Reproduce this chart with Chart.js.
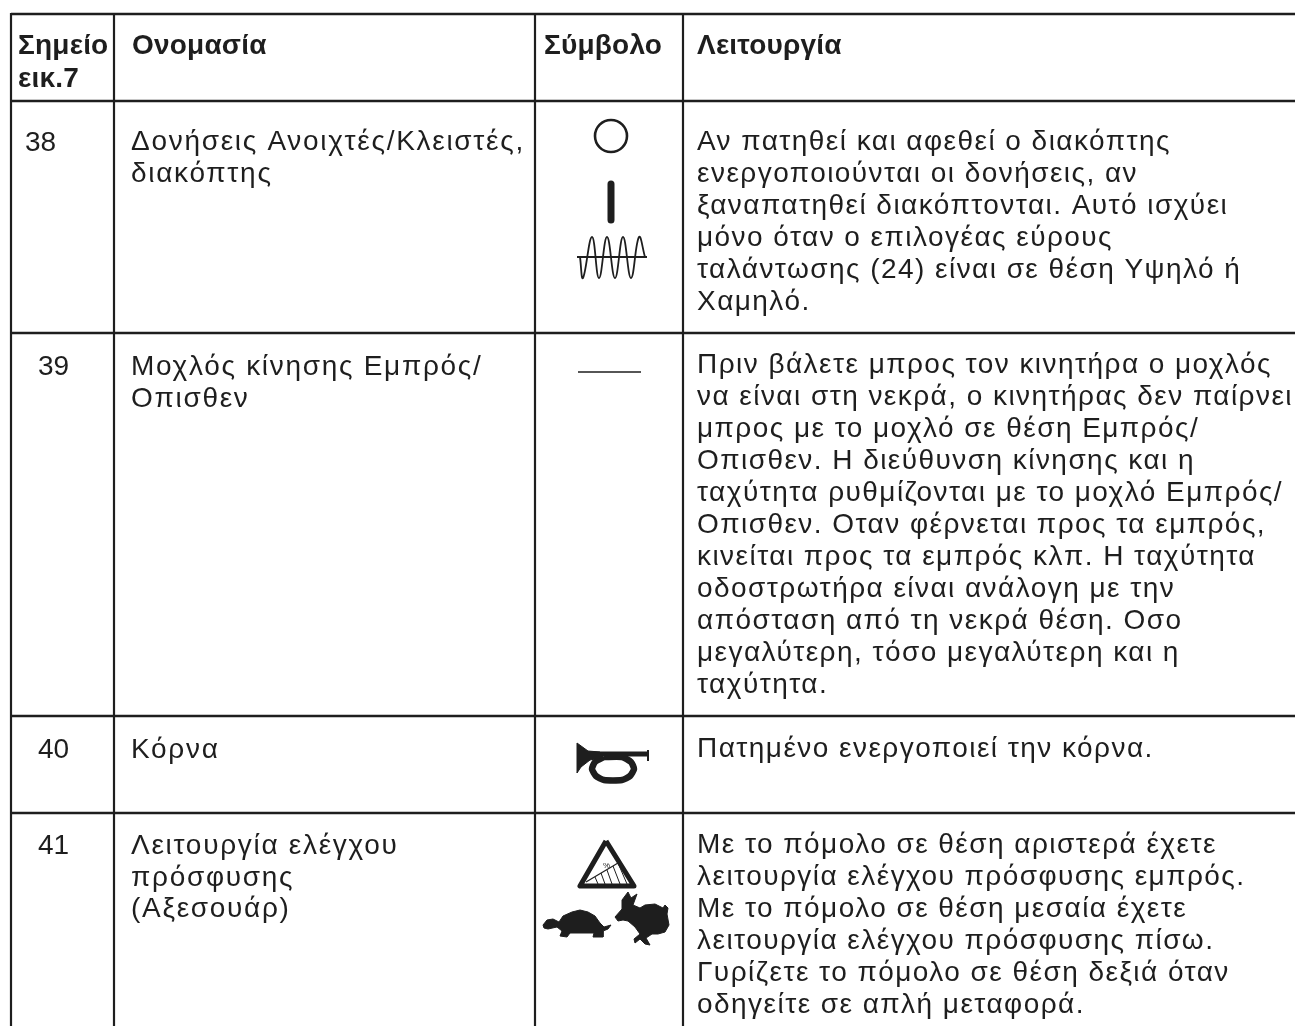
<!DOCTYPE html>
<html lang="el">
<head>
<meta charset="UTF-8">
<title>Σημείο / Ονομασία / Σύμβολο / Λειτουργία</title>
<script src="https://cdn.jsdelivr.net/npm/chart.js"></script>
<style>
  html, body { margin: 0; padding: 0; background: #fff; }
  canvas { display: block; }
</style>
</head>
<body>
<canvas id="tableChart" width="1295" height="1026"></canvas>
<script>
// table rules
const columnRules = [11, 114, 535, 683];
const rowRules = [14, 101, 333, 716, 813];

// header cells
const headerTexts = ['Σημείο', 'εικ.7', 'Ονομασία', 'Σύμβολο', 'Λειτουργία'];
const headerX = [18, 18, 132, 544, 697];
const headerY = [54, 87, 54, 54, 54];

// point numbers
const pointLabels = ['38', '39', '40', '41'];
const pointX = [25, 38, 38, 38];
const pointY = [151, 375, 758, 854];

// names, one array per row
const nameLines38 = ['Δονήσεις Ανοιχτές/Κλειστές,', 'διακόπτης'];
const nameLines39 = ['Μοχλός κίνησης Εμπρός/', 'Οπισθεν'];
const nameLines40 = ['Κόρνα'];
const nameLines41 = ['Λειτουργία ελέγχου', 'πρόσφυσης', '(Αξεσουάρ)'];
const nameTop = [150, 375, 758, 854];

// functions, one array per row
const funcLines38 = [
  'Αν πατηθεί και αφεθεί ο διακόπτης',
  'ενεργοποιούνται οι δονήσεις, αν',
  'ξαναπατηθεί διακόπτονται. Αυτό ισχύει',
  'μόνο όταν ο επιλογέας εύρους',
  'ταλάντωσης (24) είναι σε θέση Υψηλό ή',
  'Χαμηλό.'
];
const funcLines39 = [
  'Πριν βάλετε μπρος τον κινητήρα ο μοχλός',
  'να είναι στη νεκρά, ο κινητήρας δεν παίρνει',
  'μπρος με το μοχλό σε θέση Εμπρός/',
  'Οπισθεν. Η διεύθυνση κίνησης και η',
  'ταχύτητα ρυθμίζονται με το μοχλό Εμπρός/',
  'Οπισθεν. Οταν φέρνεται προς τα εμπρός,',
  'κινείται προς τα εμπρός κλπ. Η ταχύτητα',
  'οδοστρωτήρα είναι ανάλογη με την',
  'απόσταση από τη νεκρά θέση. Οσο',
  'μεγαλύτερη, τόσο μεγαλύτερη και η',
  'ταχύτητα.'
];
const funcLines40 = ['Πατημένο ενεργοποιεί την κόρνα.'];
const funcLines41 = [
  'Με το πόμολο σε θέση αριστερά έχετε',
  'λειτουργία ελέγχου πρόσφυσης εμπρός.',
  'Με το πόμολο σε θέση μεσαία έχετε',
  'λειτουργία ελέγχου πρόσφυσης πίσω.',
  'Γυρίζετε το πόμολο σε θέση δεξιά όταν',
  'οδηγείτε σε απλή μεταφορά.'
];
const funcTop = [150, 373, 757, 853];

// symbol outlines, x/y pairs
const onOffCircle = [611, 136];
const onOffBar = [611, 184, 611, 220];
const waveAxis = [577, 257, 647, 257];
const wavePath = [580, 257, 583, 278, 592, 237, 599, 278, 607, 237, 615, 278, 623, 237, 631, 278, 639, 237, 645, 257];
const leverDash = [578, 372, 641, 372];
const hornBell = [577, 743, 588, 751, 600, 752, 600, 758, 590, 760, 581, 767, 577, 773, 577, 743];
const hornTube = [585, 754, 648, 754];
const hornCap = [648, 750, 648, 761];
const hornLoop = [604, 757, 622, 757, 631, 762, 634, 769, 630, 776, 622, 780, 604, 780, 596, 776, 592, 769, 595, 762, 604, 757];
const slopeTriangle = [606, 841, 580, 886, 634, 886, 606, 841];
const slopeLine = [586, 882, 618, 863];
const slopeHatch = [
  [595, 877, 598, 884], [601, 873, 605, 884], [607, 870, 612, 884],
  [613, 866, 620, 884], [618, 863, 627, 884]
];
const turtleShape = [
  543, 925, 547, 920, 553, 919, 559, 922, 563, 916, 572, 912, 580, 910, 588, 912,
  595, 916, 600, 923, 604, 927, 611, 925, 608, 929, 603, 931, 603, 937, 593, 937,
  594, 933, 570, 933, 567, 937, 560, 936, 562, 931, 557, 927, 548, 929, 544, 928, 543, 925
];
const rabbitShape = [
  615, 917, 622, 909, 622, 900, 628, 892, 631, 898, 637, 894, 633, 905, 640, 908,
  645, 905, 655, 904, 663, 908, 665, 905, 668, 908, 667, 914, 669, 925, 665, 932,
  658, 934, 652, 934, 646, 938, 650, 945, 645, 944, 640, 939, 635, 943, 634, 939,
  640, 934, 635, 927, 628, 921, 623, 920, 618, 921, 615, 917
];
const rabbitGap = [639, 929, 645, 927, 650, 928, 650, 933, 644, 935, 639, 934, 639, 929];

function toPoints(pairs) {
  const pts = [];
  for (let i = 0; i < pairs.length; i += 2) pts.push({ x: pairs[i], y: pairs[i + 1] });
  return pts;
}

const ink = '#1e1e1e';

function stroke(pairs, width, extra) {
  return Object.assign({
    data: toPoints(pairs), showLine: true, pointRadius: 0,
    borderColor: ink, borderWidth: width, backgroundColor: ink, fill: false
  }, extra || {});
}

function shape(pairs, colour) {
  const c = colour || ink;
  return stroke(pairs, 1, { fill: 'shape', tension: 0, borderColor: c, backgroundColor: c });
}

const ruleDatasets = [];
columnRules.forEach(x => ruleDatasets.push(stroke([x, rowRules[0] - 1, x, 1026], 2.2)));
rowRules.forEach(y => ruleDatasets.push(stroke([11, y, 1295, y], 2.4)));

const symbolDatasets = [
  {
    data: toPoints(onOffCircle), pointStyle: 'circle', pointRadius: 16,
    pointBorderWidth: 2.6, pointBorderColor: ink, pointBackgroundColor: '#fff'
  },
  stroke(onOffBar, 7, { borderCapStyle: 'round' }),
  stroke(waveAxis, 1.8),
  stroke(wavePath, 1.8, { tension: 0.42 }),
  stroke(leverDash, 1.5),
  shape(hornBell),
  stroke(hornTube, 5),
  stroke(hornCap, 2),
  stroke(hornLoop, 6.5, { tension: 0.2 }),
  stroke(slopeTriangle, 5, { borderJoinStyle: 'round' }),
  stroke(slopeLine, 1.2)
].concat(slopeHatch.map(h => stroke(h, 1)), [shape(turtleShape), shape(rabbitShape), shape(rabbitGap, '#fff')]);

// writes the table text through the chart's scales
const tableText = {
  id: 'tableText',
  afterDatasetsDraw(chart) {
    const { ctx, scales: { x, y } } = chart;
    const put = (txt, px, py) => ctx.fillText(txt, x.getPixelForValue(px), y.getPixelForValue(py));
    ctx.save();
    ctx.fillStyle = ink;
    ctx.textBaseline = 'alphabetic';
    ctx.textAlign = 'left';

    ctx.font = 'bold 28px "Liberation Sans"';
    ctx.letterSpacing = '0.2px';
    headerTexts.forEach((t, i) => put(t, headerX[i], headerY[i]));

    ctx.font = '28px "Liberation Sans"';
    ctx.letterSpacing = '0px';
    pointLabels.forEach((t, i) => put(t, pointX[i], pointY[i]));

    ctx.letterSpacing = '1.7px';
    [nameLines38, nameLines39, nameLines40, nameLines41].forEach((lines, r) => {
      lines.forEach((t, i) => put(t, 131, nameTop[r] + i * 31.5));
    });
    ctx.letterSpacing = '1.45px';
    [funcLines38, funcLines39, funcLines40, funcLines41].forEach((lines, r) => {
      lines.forEach((t, i) => put(t, 697, funcTop[r] + i * 32));
    });

    ctx.font = '8px "Liberation Sans"';
    ctx.letterSpacing = '0px';
    put('%', 603, 868);
    ctx.restore();
  }
};

new Chart(document.getElementById('tableChart'), {
  type: 'scatter',
  data: { datasets: ruleDatasets.concat(symbolDatasets) },
  plugins: [tableText],
  options: {
    responsive: false,
    animation: false,
    layout: { padding: 0, autoPadding: false },
    plugins: { legend: { display: false }, tooltip: { enabled: false } },
    scales: {
      x: { type: 'linear', display: false, min: 0, max: 1295 },
      y: { type: 'linear', display: false, min: 0, max: 1026, reverse: true }
    }
  }
});
</script>
</body>
</html>
